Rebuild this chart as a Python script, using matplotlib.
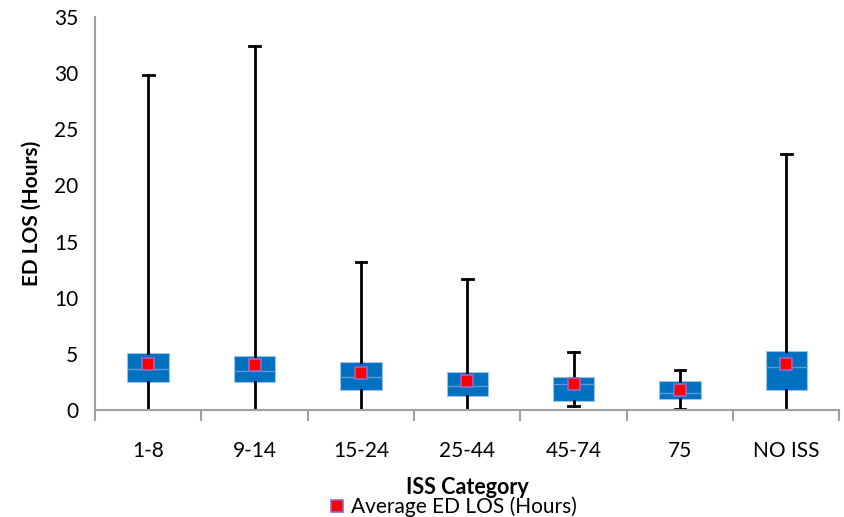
import matplotlib.pyplot as plt
from matplotlib.lines import Line2D

plt.rcParams['font.family'] = ['Lato', 'DejaVu Sans']

categories = ["1-8", "9-14", "15-24", "25-44", "45-74", "75", "NO ISS"]
whisker_low = [0.0, 0.0, 0.0, 0.0, 0.38, 0.05, 0.0]
q1 = [2.47, 2.47, 1.78, 1.27, 0.80, 0.95, 1.78]
median = [3.62, 3.45, 2.91, 2.11, 2.34, 1.51, 3.80]
q3 = [5.10, 4.81, 4.25, 3.41, 2.91, 2.58, 5.25]
whisker_high = [29.8, 32.4, 13.2, 11.7, 5.19, 3.53, 22.8]
mean_los = [4.12, 3.98, 3.29, 2.61, 2.29, 1.78, 4.10]

fig = plt.figure(figsize=(8.44, 5.17), dpi=100)
ax = fig.add_axes([0.1126, 0.207, 0.882, 0.76])

stats = []
for i, c in enumerate(categories):
    stats.append({"label": c, "whislo": whisker_low[i], "q1": q1[i], "med": median[i],
                  "q3": q3[i], "whishi": whisker_high[i], "fliers": []})

pos = list(range(len(categories)))
ax.bxp(stats, positions=pos, widths=0.39, patch_artist=True, showfliers=False,
       boxprops=dict(facecolor="#0070C0", edgecolor="#9DC3E6", linewidth=0.8),
       medianprops=dict(color="#5B9BD5", linewidth=1.0),
       whiskerprops=dict(color="black", linewidth=2),
       capprops=dict(color="black", linewidth=2),
       capwidths=0.1, zorder=2)
ax.plot(pos, mean_los, linestyle="none", marker="s", markersize=8,
        markerfacecolor="#FF0000", markeredgecolor="#9966CC", markeredgewidth=1.2, zorder=4)

ax.set_xlim(-0.5, len(categories) - 0.5)
ax.set_ylim(0, 35)
ax.set_yticks(range(0, 36, 5))
ax.set_xticks(pos)
ax.set_xticklabels(categories)
ax.set_xticks([p - 0.5 for p in pos] + [len(categories) - 0.5], minor=True)
ax.tick_params(axis="x", which="major", length=0, pad=22, labelsize=15)
ax.tick_params(axis="x", which="minor", length=8, color="#A0A0A0", width=1.5)
ax.tick_params(axis="y", length=0, pad=12, labelsize=15)

for s in ["top", "right"]:
    ax.spines[s].set_visible(False)
for s in ["left", "bottom"]:
    ax.spines[s].set_color("#A0A0A0")
    ax.spines[s].set_linewidth(1.5)

ax.set_xlabel("ISS Category", fontsize=15.5, fontweight="bold", labelpad=12)
ax.set_ylabel("ED LOS (Hours)", fontsize=15, fontweight="bold", labelpad=9)

handle = Line2D([], [], linestyle="none", marker="s", markersize=8,
                markerfacecolor="#FF0000", markeredgecolor="#9966CC", markeredgewidth=1.2)
fig.legend([handle], ["Average ED LOS (Hours)"], loc="center", bbox_to_anchor=(0.535, 0.02),
           frameon=False, fontsize=15, handletextpad=0.2, borderpad=0, handlelength=1)

fig.savefig("out.png", dpi=100)
